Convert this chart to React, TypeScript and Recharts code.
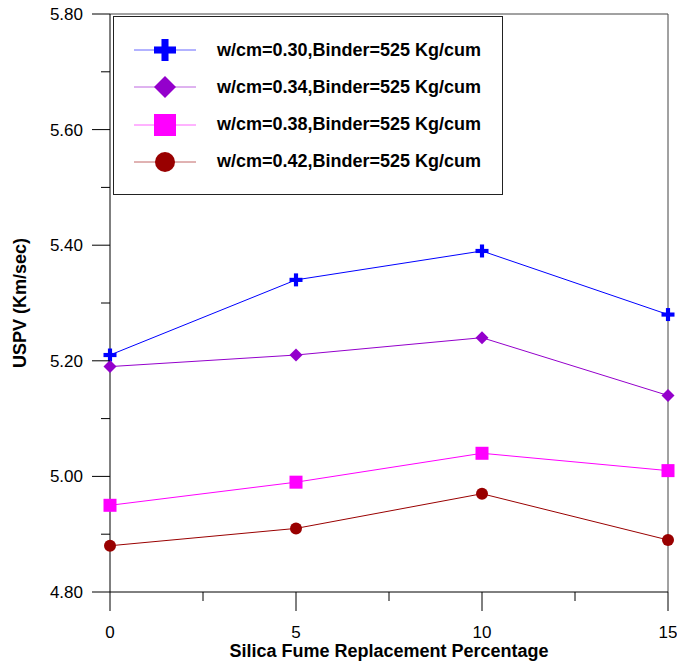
import { LineChart, Line, XAxis, YAxis, Legend, ReferenceLine, Label } from 'recharts';

const sfPercent = [0, 5, 10, 15];
const w030 = [5.21, 5.34, 5.39, 5.28];
const w034 = [5.19, 5.21, 5.24, 5.14];
const w038 = [4.95, 4.99, 5.04, 5.01];
const w042 = [4.88, 4.91, 4.97, 4.89];

const xTicks = [0, 2.5, 5, 7.5, 10, 12.5, 15];
const yTicks = [4.8, 4.9, 5.0, 5.1, 5.2, 5.3, 5.4, 5.5, 5.6, 5.7, 5.8];

const seriesKeys = ['w030', 'w034', 'w038', 'w042'];
const seriesNames = [
  'w/cm=0.30,Binder=525 Kg/cum',
  'w/cm=0.34,Binder=525 Kg/cum',
  'w/cm=0.38,Binder=525 Kg/cum',
  'w/cm=0.42,Binder=525 Kg/cum',
];
const seriesColors = ['#0000ff', '#9400cc', '#ff00ff', '#990000'];
const seriesMarkers = ['plus', 'diamond', 'square', 'circle'];

const data = sfPercent.map((sf, i) => ({
  sf,
  w030: w030[i],
  w034: w034[i],
  w038: w038[i],
  w042: w042[i],
}));

const font = 'Arial, "Liberation Sans", sans-serif';

function Marker({ kind, cx, cy, size, color }: { kind: string; cx: number; cy: number; size: number; color: string }) {
  const h = size / 2;
  if (kind === 'plus') {
    const t = size * 0.16;
    return (
      <g fill={color}>
        <rect x={cx - h} y={cy - t} width={size} height={t * 2} />
        <rect x={cx - t} y={cy - h} width={t * 2} height={size} />
      </g>
    );
  }
  if (kind === 'diamond') {
    return <polygon points={`${cx},${cy - h} ${cx + h},${cy} ${cx},${cy + h} ${cx - h},${cy}`} fill={color} />;
  }
  if (kind === 'square') {
    return <rect x={cx - h} y={cy - h} width={size} height={size} fill={color} />;
  }
  return <circle cx={cx} cy={cy} r={h} fill={color} />;
}

const makeDot = (kind: string, color: string, size: number) => (props: any) => (
  <Marker key={`${kind}-${props.index}`} kind={kind} cx={props.cx} cy={props.cy} size={size} color={color} />
);

const XTick = ({ x, y, payload }: any) => {
  const major = payload.value % 5 === 0;
  return (
    <g>
      <line x1={x} x2={x} y1={y} y2={y + (major ? 19 : 9)} stroke="#000" />
      {major && (
        <text x={x} y={y + 46} textAnchor="middle" fontSize={17} fontFamily={font} fill="#000">
          {payload.value}
        </text>
      )}
    </g>
  );
};

const YTick = ({ x, y, payload }: any) => {
  const major = Math.round(payload.value * 10) % 2 === 0;
  return (
    <g>
      <line x1={x - (major ? 18 : 9)} x2={x} y1={y} y2={y} stroke="#000" />
      {major && (
        <text x={x - 27} y={y + 6} textAnchor="end" fontSize={17} fontFamily={font} fill="#000">
          {payload.value.toFixed(2)}
        </text>
      )}
    </g>
  );
};

const YTitle = ({ viewBox }: any) => {
  const cy = viewBox.y + viewBox.height / 2;
  return (
    <text x={26} y={cy} transform={`rotate(-90 26 ${cy})`} textAnchor="middle" fontSize={18} fontWeight="bold" fontFamily={font} fill="#000">
      USPV (Km/sec)
    </text>
  );
};

const XTitle = ({ viewBox }: any) => (
  <text x={viewBox.x + viewBox.width / 2} y={657} textAnchor="middle" fontSize={18} fontWeight="bold" fontFamily={font} fill="#000">
    Silica Fume Replacement Percentage
  </text>
);

const LegendBox = () => (
  <div style={{ width: 390, height: 179, border: '1px solid #222', boxSizing: 'border-box', background: '#fff', position: 'relative', fontFamily: font }}>
    {seriesNames.map((name, i) => (
      <div key={name} style={{ position: 'absolute', left: 0, top: 33 + i * 37.3 - 15, height: 30, display: 'flex', alignItems: 'center' }}>
        <svg width={100} height={30}>
          <line x1={20} x2={82} y1={15} y2={15} stroke={seriesColors[i]} strokeOpacity={0.6} />
          <Marker kind={seriesMarkers[i]} cx={51} cy={15} size={seriesMarkers[i] === 'circle' ? 20 : 22} color={seriesColors[i]} />
        </svg>
        <span style={{ fontWeight: 'bold', fontSize: 18, marginLeft: 3, color: '#000' }}>{name}</span>
      </div>
    ))}
  </div>
);

export default function App() {
  return (
    <div style={{ position: 'absolute', left: 0, top: 0, background: '#fff' }}>
      <LineChart width={677} height={664} data={data} margin={{ top: 14, right: 9, bottom: 0, left: 0 }}>
        <XAxis
          dataKey="sf"
          type="number"
          domain={[0, 15]}
          ticks={xTicks}
          height={72}
          tickSize={0}
          tickMargin={0}
          tickLine={false}
          tick={<XTick />}
          axisLine={{ stroke: '#000' }}
          interval={0}
        >
          <Label content={<XTitle />} />
        </XAxis>
        <YAxis
          type="number"
          domain={[4.8, 5.8]}
          ticks={yTicks}
          width={110}
          tickSize={0}
          tickMargin={0}
          tickLine={false}
          tick={<YTick />}
          axisLine={{ stroke: '#000' }}
          interval={0}
        >
          <Label content={<YTitle />} />
        </YAxis>
        <ReferenceLine y={5.8} stroke="#444" />
        <ReferenceLine x={15} stroke="#444" />
        {seriesKeys.map((key, i) => (
          <Line
            key={key}
            dataKey={key}
            name={seriesNames[i]}
            stroke={seriesColors[i]}
            strokeWidth={1}
            dot={makeDot(seriesMarkers[i], seriesColors[i], seriesMarkers[i] === 'circle' ? 12 : 13)}
            activeDot={false}
            isAnimationActive={false}
          />
        ))}
        <Legend
          layout="vertical"
          align="center"
          verticalAlign="middle"
          content={<LegendBox />}
          wrapperStyle={{ position: 'absolute', left: 113, top: 16, width: 390, height: 179 }}
        />
      </LineChart>
    </div>
  );
}
